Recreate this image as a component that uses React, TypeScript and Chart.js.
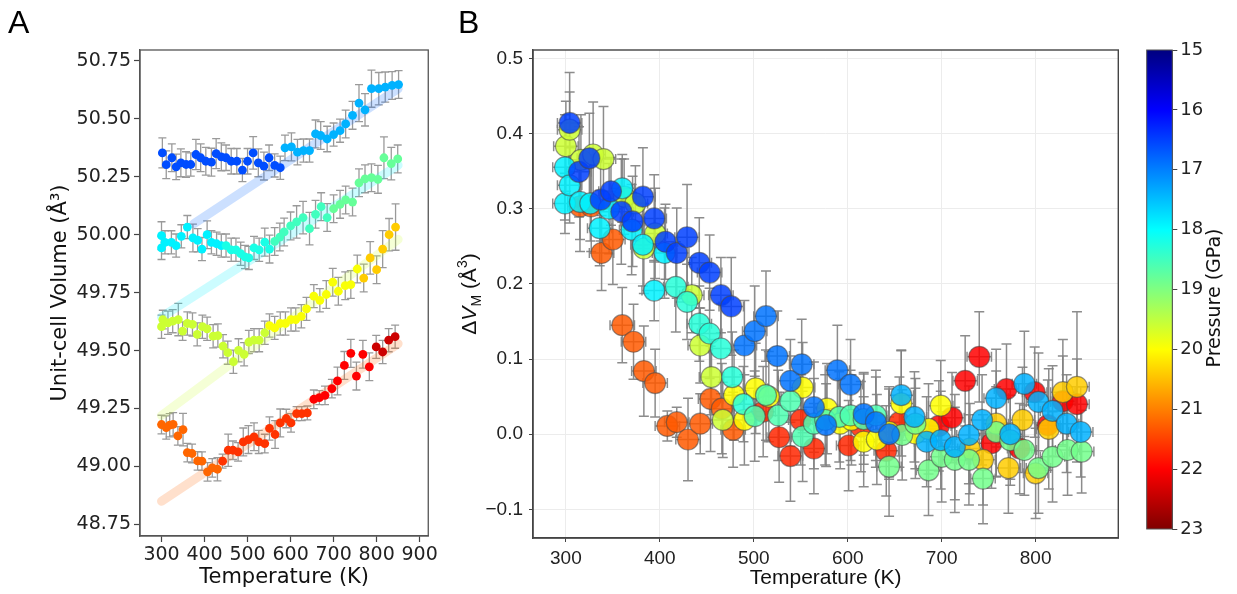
import React, { useEffect, useRef } from "react";
import { Chart, registerables } from "chart.js";
Chart.register(...registerables);

const FONT_A = "'DejaVu Sans', sans-serif";
const FONT_B = "'Liberation Sans', Arial, sans-serif";

// ---------- Panel A ----------
const A_X_TICKS = [300, 400, 500, 600, 700, 800, 900];
const A_Y_TICKS = [48.75, 49.0, 49.25, 49.5, 49.75, 50.0, 50.25, 50.5, 50.75];

const A1_T = [302,311,324,334,345,357,368,380,391,403,416,427,439,450,462,475,488,500,513,525,538,550,563,576,587,602,616,630,644,658,670,685,700,715,728,744,759,773,788,805,820,836,851];
const A1_V = [50.353,50.302,50.332,50.293,50.31,50.303,50.303,50.346,50.332,50.317,50.313,50.35,50.336,50.332,50.317,50.317,50.279,50.317,50.353,50.31,50.296,50.332,50.299,50.289,50.375,50.379,50.356,50.363,50.363,50.435,50.428,50.413,50.432,50.449,50.478,50.515,50.568,50.539,50.63,50.63,50.637,50.644,50.648];
const A1_ERR = [0.065,0.06,0.06,0.055,0.06,0.055,0.05,0.065,0.06,0.06,0.06,0.065,0.06,0.055,0.055,0.055,0.05,0.055,0.07,0.06,0.06,0.055,0.05,0.05,0.055,0.06,0.055,0.05,0.05,0.06,0.06,0.055,0.05,0.05,0.06,0.06,0.08,0.07,0.08,0.07,0.065,0.06,0.06];
const A1_P = [[0, 16.6], [580, 17.4]];

const A2_T = [300,300,308,323,334,346,360,373,384,394,406,416,428,439,450,462,473,484,494,503,515,527,540,551,563,575,585,600,614,629,644,658,671,685,700,715,728,744,759,773,788,803,817,834,849];
const A2_V = [49.996,49.943,49.967,49.967,49.953,49.993,50.033,49.986,49.976,49.938,50.0,49.967,49.961,49.953,49.953,49.935,49.935,49.918,49.904,49.9,49.943,49.935,49.968,49.938,49.971,49.99,50.012,50.038,50.055,50.074,50.026,50.088,50.121,50.074,50.112,50.131,50.15,50.141,50.224,50.241,50.246,50.239,50.332,50.307,50.327];
const A2_ERR = [0.06,0.05,0.05,0.05,0.05,0.05,0.05,0.06,0.05,0.05,0.06,0.05,0.05,0.05,0.05,0.05,0.05,0.05,0.05,0.05,0.05,0.05,0.06,0.06,0.06,0.06,0.06,0.06,0.07,0.07,0.07,0.06,0.06,0.06,0.06,0.06,0.06,0.06,0.06,0.06,0.06,0.06,0.09,0.07,0.06];
const A2_P = [[0, 17.9], [440, 18.2], [560, 18.5], [700, 18.8]];

const A3_T = [300,303,315,326,339,349,360,372,383,395,406,420,431,443,454,467,479,492,503,515,527,540,551,563,576,588,601,612,625,637,654,668,683,698,711,727,740,755,770,785,800,814,829,844];
const A3_V = [49.603,49.634,49.62,49.627,49.634,49.584,49.617,49.613,49.57,49.603,49.594,49.562,49.565,49.519,49.491,49.452,49.501,49.484,49.537,49.545,49.545,49.577,49.608,49.598,49.617,49.617,49.634,49.634,49.648,49.68,49.735,49.717,49.742,49.795,49.756,49.78,49.785,49.852,49.813,49.9,49.849,49.938,50.0,50.033];
const A3_ERR = [0.05,0.04,0.05,0.05,0.07,0.04,0.05,0.05,0.05,0.05,0.05,0.05,0.05,0.05,0.05,0.05,0.05,0.05,0.05,0.05,0.05,0.05,0.05,0.05,0.05,0.05,0.05,0.05,0.05,0.05,0.05,0.05,0.06,0.06,0.06,0.06,0.06,0.06,0.06,0.07,0.06,0.08,0.07,0.1];
const A3_P = [[0, 19.6], [545, 19.95], [760, 20.4]];

const A4_T = [300,311,319,327,338,350,360,371,384,394,407,418,430,442,455,466,478,490,502,515,526,540,551,564,576,590,601,614,626,639,654,667,680,696,709,725,740,753,768,783,799,814,828,843];
const A4_V = [49.181,49.168,49.178,49.182,49.132,49.159,49.06,49.056,49.024,49.023,48.977,48.994,48.988,49.023,49.07,49.07,49.063,49.106,49.116,49.128,49.106,49.099,49.164,49.138,49.188,49.207,49.188,49.228,49.228,49.231,49.29,49.297,49.307,49.336,49.369,49.436,49.488,49.39,49.484,49.43,49.516,49.494,49.545,49.56];
const A4_ERR = [0.04,0.05,0.05,0.05,0.04,0.07,0.04,0.04,0.04,0.04,0.04,0.04,0.05,0.03,0.07,0.04,0.04,0.06,0.06,0.06,0.05,0.04,0.05,0.06,0.06,0.04,0.04,0.03,0.03,0.03,0.04,0.03,0.04,0.04,0.06,0.06,0.06,0.06,0.06,0.06,0.05,0.05,0.05,0.05];
const A4_P = [[0, 21.2], [440, 21.6], [650, 22.0], [790, 22.4]];

// faint linear-fit trails (start / end)
const TRAIL1_T = [375, 850]; const TRAIL1_V = [50.047, 50.63]; const TRAIL1_P = 16.8;
const TRAIL2_T = [300, 850]; const TRAIL2_V = [49.645, 50.3]; const TRAIL2_P = 17.9;
const TRAIL3_T = [300, 850]; const TRAIL3_V = [49.22, 49.98]; const TRAIL3_P = 19.6;
const TRAIL4_T = [300, 850]; const TRAIL4_V = [48.85, 49.53]; const TRAIL4_P = 21.2;

// ---------- Panel B ----------
const B_X_TICKS = [300, 400, 500, 600, 700, 800];
const B_Y_TICKS = [-0.1, 0.0, 0.1, 0.2, 0.3, 0.4, 0.5];
const B_T_ERR = 13;

const B1_T = [304,314,325,337,348,359,371,382,394,406,418,429,442,453,465,476,490,501,513,525,539,551,564,577,589,603,617,630,644,657,671,684,699,714,729,743,758,773,788,803,818,833,848];
const B1_V = [0.414,0.349,0.367,0.312,0.323,0.296,0.283,0.316,0.287,0.256,0.241,0.262,0.228,0.215,0.185,0.17,0.118,0.137,0.157,0.104,0.071,0.093,0.036,0.012,0.085,0.066,0.027,0.016,0.0,0.052,0.023,-0.01,-0.008,-0.017,-0.001,0.019,0.048,0.0,0.067,0.043,0.031,0.014,0.003];
const B1_ERR = [0.067,0.06,0.06,0.055,0.045,0.07,0.06,0.065,0.058,0.05,0.06,0.07,0.06,0.05,0.05,0.065,0.06,0.06,0.06,0.06,0.055,0.06,0.06,0.055,0.06,0.06,0.055,0.06,0.06,0.06,0.06,0.06,0.065,0.07,0.065,0.06,0.065,0.06,0.07,0.065,0.06,0.065,0.06];
const B1_P = [[0, 16.5], [485, 16.9], [650, 17.4]];

const B2_T = [299,299,304,315,326,336,346,360,370,382,394,405,417,429,442,453,465,477,489,501,513,526,539,552,564,576,591,603,617,630,644,658,672,686,700,714,729,744,758,773,788,803,818,834,849];
const B2_V = [0.355,0.307,0.331,0.309,0.307,0.274,0.3,0.327,0.272,0.252,0.191,0.241,0.196,0.176,0.147,0.134,0.114,0.076,0.04,0.024,0.052,0.025,0.044,-0.003,0.014,0.019,0.023,0.025,0.02,0.025,-0.043,-0.001,0.014,-0.048,-0.03,-0.034,-0.034,-0.059,0.003,-0.008,-0.021,-0.045,-0.03,-0.021,-0.023];
const B2_ERR = [0.07,0.04,0.05,0.05,0.05,0.05,0.06,0.045,0.06,0.055,0.04,0.06,0.06,0.05,0.05,0.06,0.06,0.06,0.05,0.06,0.06,0.06,0.06,0.06,0.06,0.06,0.06,0.06,0.06,0.06,0.066,0.06,0.06,0.06,0.06,0.07,0.06,0.06,0.06,0.06,0.06,0.06,0.06,0.06,0.055];
const B2_P = [[0, 17.9], [410, 18.3], [495, 18.6], [640, 18.9]];

const B3_T = [300,304,316,329,340,362,374,383,395,434,443,455,467,479,490,502,516,552,578,592,604,617,631,644,657,672,686,699,730,744,758,771,786,800,814,829,844];
const B3_V = [0.383,0.405,0.365,0.372,0.366,0.316,0.307,0.247,0.267,0.185,0.118,0.076,0.019,0.052,0.019,0.061,0.05,0.062,0.034,0.014,0.019,-0.01,-0.007,0.003,0.041,0.001,0.007,0.038,-0.019,-0.034,0.014,-0.045,0.019,-0.052,0.007,0.056,0.063];
const B3_ERR = [0.06,0.05,0.06,0.07,0.07,0.05,0.05,0.06,0.06,0.05,0.05,0.05,0.05,0.06,0.06,0.06,0.06,0.06,0.06,0.06,0.06,0.06,0.06,0.06,0.07,0.06,0.06,0.06,0.06,0.06,0.07,0.06,0.07,0.06,0.08,0.07,0.1];
const B3_P = [[0, 19.6], [475, 20.0], [720, 20.4]];

const B4_T = [315,327,338,350,360,372,383,395,408,418,430,443,454,466,478,510,527,539,550,564,601,614,641,655,697,711,725,740,753,769,783,799,813,829,844];
const B4_V = [0.303,0.303,0.241,0.259,0.145,0.123,0.084,0.068,0.011,0.016,-0.007,0.014,0.047,0.034,0.006,0.03,-0.004,-0.029,0.019,-0.019,-0.015,0.01,-0.022,0.016,0.011,0.022,0.071,0.103,-0.012,0.06,-0.019,0.056,0.012,0.044,0.04];
const B4_ERR = [0.06,0.06,0.05,0.06,0.05,0.05,0.06,0.045,0.02,0.02,0.055,0.04,0.07,0.06,0.05,0.06,0.06,0.06,0.06,0.06,0.06,0.06,0.06,0.06,0.06,0.06,0.06,0.06,0.06,0.06,0.06,0.06,0.06,0.06,0.06];
const B4_P = [[0, 21.3], [500, 21.7], [690, 22.0]];

// ---------- Colorbar ----------
const CB_TICKS = [15, 16, 17, 18, 19, 20, 21, 22, 23];
const CB_MIN = 15;
const CB_MAX = 23;

// ---------- helpers ----------
function jet(p: number, a = 1) {
  const t = Math.min(1, Math.max(0, (p - CB_MIN) / (CB_MAX - CB_MIN)));
  const c = (v: number) => Math.round(255 * Math.min(1, Math.max(0, v)));
  const r = c(1.5 - Math.abs(4 * t - 3));
  const g = c(1.5 - Math.abs(4 * t - 2));
  const b = c(1.5 - Math.abs(4 * t - 1));
  return `rgba(${r},${g},${b},${a})`;
}
function pressureFor(steps: number[][], t: number) {
  let p = steps[0][1];
  for (const [t0, pv] of steps) if (t >= t0) p = pv;
  return p;
}
function pts(T: number[], V: number[]) {
  return T.map((t, i) => ({ x: t, y: V[i] }));
}

const errorBarPlugin = {
  id: "errbars",
  beforeDatasetsDraw(chart: any, _args: any, opts: any) {
    const ctx = chart.ctx;
    const xs = chart.scales.x;
    const ys = chart.scales.y;
    const area = chart.chartArea;
    ctx.save();
    ctx.beginPath();
    ctx.rect(area.left, area.top, area.right - area.left, area.bottom - area.top);
    ctx.clip();
    ctx.strokeStyle = opts.color;
    ctx.lineWidth = opts.width;
    const cap = opts.cap;
    chart.data.datasets.forEach((ds: any) => {
      if (!ds.errY) return;
      ds.data.forEach((pt: any, i: number) => {
        const x = xs.getPixelForValue(pt.x);
        const y = ys.getPixelForValue(pt.y);
        const e = ds.errY[i] ?? 0;
        const y1 = ys.getPixelForValue(pt.y + e);
        const y2 = ys.getPixelForValue(pt.y - e);
        ctx.beginPath();
        ctx.moveTo(x, y1); ctx.lineTo(x, y2);
        ctx.moveTo(x - cap, y1); ctx.lineTo(x + cap, y1);
        ctx.moveTo(x - cap, y2); ctx.lineTo(x + cap, y2);
        if (ds.errX) {
          const x1 = xs.getPixelForValue(pt.x - ds.errX);
          const x2 = xs.getPixelForValue(pt.x + ds.errX);
          ctx.moveTo(x1, y); ctx.lineTo(x2, y);
          ctx.moveTo(x1, y - cap); ctx.lineTo(x1, y + cap);
          ctx.moveTo(x2, y - cap); ctx.lineTo(x2, y + cap);
        }
        ctx.stroke();
      });
    });
    ctx.restore();
  },
};

const framePlugin = {
  id: "frame",
  afterDatasetsDraw(chart: any, _args: any, opts: any) {
    const { left, top, right, bottom } = chart.chartArea;
    const ctx = chart.ctx;
    ctx.save();
    ctx.strokeStyle = opts.color;
    ctx.lineWidth = opts.width;
    ctx.strokeRect(left, top, right - left, bottom - top);
    ctx.restore();
  },
};

const letterPlugin = {
  id: "letter",
  afterDraw(chart: any, _args: any, opts: any) {
    const ctx = chart.ctx;
    ctx.save();
    ctx.fillStyle = "#000";
    ctx.font = `32px ${FONT_B}`;
    ctx.textBaseline = "alphabetic";
    ctx.textAlign = "left";
    ctx.fillText(opts.text, opts.x, opts.y);
    ctx.restore();
  },
};

const bTitlePlugin = {
  id: "btitle",
  afterDraw(chart: any) {
    const ctx = chart.ctx;
    const area = chart.chartArea;
    const big = `21px ${FONT_B}`;
    const it = `italic 21px ${FONT_B}`;
    const small = `14px ${FONT_B}`;
    const parts = [
      { t: "Δ", f: big, dy: 0 },
      { t: "V", f: it, dy: 0 },
      { t: "M", f: small, dy: 5 },
      { t: " (Å", f: big, dy: 0 },
      { t: "3", f: small, dy: -9 },
      { t: ")", f: big, dy: 0 },
    ];
    ctx.save();
    let total = 0;
    const widths = parts.map((p) => { ctx.font = p.f; const w = ctx.measureText(p.t).width; total += w; return w; });
    ctx.translate(28, (area.top + area.bottom) / 2);
    ctx.rotate(-Math.PI / 2);
    ctx.fillStyle = "#111";
    ctx.textBaseline = "alphabetic";
    ctx.textAlign = "left";
    let x = -total / 2;
    parts.forEach((p, i) => {
      ctx.font = p.f;
      ctx.fillText(p.t, x, 7.5 + p.dy);
      x += widths[i];
    });
    ctx.restore();
  },
};

const colorbarPlugin = {
  id: "cbar",
  beforeDatasetsDraw(chart: any) {
    const ctx = chart.ctx;
    const { left, top, right, bottom } = chart.chartArea;
    const ys = chart.scales.y;
    const grad = ctx.createLinearGradient(0, top, 0, bottom);
    for (let k = 0; k <= 64; k++) {
      const p = CB_MIN + ((CB_MAX - CB_MIN) * k) / 64;
      const pos = (ys.getPixelForValue(p) - top) / (bottom - top);
      grad.addColorStop(Math.min(1, Math.max(0, pos)), jet(p));
    }
    ctx.save();
    ctx.fillStyle = grad;
    ctx.fillRect(left, top, right - left, bottom - top);
    ctx.restore();
  },
  afterDraw(chart: any) {
    const ctx = chart.ctx;
    ctx.save();
    ctx.translate(90, 298);
    ctx.rotate(-Math.PI / 2);
    ctx.font = `19px ${FONT_A}`;
    ctx.fillStyle = "#111";
    ctx.textAlign = "center";
    ctx.textBaseline = "alphabetic";
    ctx.fillText("Pressure (GPa)", 0, 0);
    ctx.restore();
  },
};

function aSeries(T: number[], V: number[], E: number[], P: number[][], order: number) {
  return {
    type: "scatter" as const,
    data: pts(T, V),
    errY: E,
    order,
    pointRadius: 4.4,
    pointBorderWidth: 0,
    pointBackgroundColor: T.map((t) => jet(pressureFor(P, t))),
    showLine: false,
  };
}
function aTrail(T: number[], V: number[], P: number) {
  return {
    type: "line" as const,
    data: pts(T, V),
    order: 10,
    borderColor: jet(P, 0.2),
    borderWidth: 9,
    borderCapStyle: "round" as const,
    pointRadius: 0,
    showLine: true,
    fill: false,
  };
}
function bSeries(T: number[], V: number[], E: number[], P: number[][], order: number) {
  return {
    type: "scatter" as const,
    data: pts(T, V),
    errY: E,
    errX: B_T_ERR,
    order,
    pointRadius: 10.5,
    pointBorderWidth: 1.2,
    pointBorderColor: "rgba(70,70,70,0.55)",
    pointBackgroundColor: T.map((t) => jet(pressureFor(P, t), 0.85)),
    showLine: false,
  };
}

export default function App() {
  const refA = useRef<HTMLCanvasElement>(null);
  const refB = useRef<HTMLCanvasElement>(null);
  const refC = useRef<HTMLCanvasElement>(null);

  useEffect(() => {
    const chartA = new Chart(refA.current!, {
      type: "scatter",
      data: {
        datasets: [
          aSeries(A1_T, A1_V, A1_ERR, A1_P, 1),
          aSeries(A2_T, A2_V, A2_ERR, A2_P, 2),
          aSeries(A3_T, A3_V, A3_ERR, A3_P, 3),
          aSeries(A4_T, A4_V, A4_ERR, A4_P, 4),
          aTrail(TRAIL1_T, TRAIL1_V, TRAIL1_P),
          aTrail(TRAIL2_T, TRAIL2_V, TRAIL2_P),
          aTrail(TRAIL3_T, TRAIL3_V, TRAIL3_P),
          aTrail(TRAIL4_T, TRAIL4_V, TRAIL4_P),
        ] as any,
      },
      plugins: [errorBarPlugin, framePlugin, letterPlugin],
      options: {
        animation: false,
        responsive: false,
        devicePixelRatio: 1,
        events: [],
        layout: { padding: { top: 50, right: 7, left: 0, bottom: 0 } },
        plugins: {
          legend: { display: false },
          tooltip: { enabled: false },
          errbars: { color: "#9a9a9a", width: 1.3, cap: 4 },
          frame: { color: "#555", width: 1.3 },
          letter: { text: "A", x: 8, y: 33 },
        } as any,
        scales: {
          x: {
            type: "linear",
            min: 250,
            max: 920,
            afterBuildTicks: (s: any) => { s.ticks = A_X_TICKS.map((v) => ({ value: v })); },
            afterFit: (s: any) => { s.height = 58; },
            grid: { drawOnChartArea: false, color: "#444", tickLength: 6, tickWidth: 1.2 },
            border: { display: true, color: "#555", width: 1.3 },
            ticks: { font: { family: FONT_A, size: 19 }, color: "#222", padding: 2, maxRotation: 0, autoSkip: false, callback: (v: any) => String(v) },
            title: { display: true, text: "Temperature (K)", font: { family: FONT_A, size: 21 }, color: "#111", padding: { top: 0, bottom: 4 } },
          },
          y: {
            type: "linear",
            min: 48.7,
            max: 50.797,
            afterBuildTicks: (s: any) => { s.ticks = A_Y_TICKS.map((v) => ({ value: v })); },
            afterFit: (s: any) => { s.width = 140; },
            grid: { drawOnChartArea: false, color: "#444", tickLength: 6, tickWidth: 1.2 },
            border: { display: true, color: "#555", width: 1.3 },
            ticks: { font: { family: FONT_A, size: 19 }, color: "#222", padding: 3, autoSkip: false, callback: (v: any) => Number(v).toFixed(2) },
            title: { display: true, text: "Unit-cell Volume (Å³)", font: { family: FONT_A, size: 21 }, color: "#111", padding: { top: 48, bottom: 0 } },
          },
        },
      },
    });

    const chartB = new Chart(refB.current!, {
      type: "scatter",
      data: {
        datasets: [
          bSeries(B1_T, B1_V, B1_ERR, B1_P, 1),
          bSeries(B2_T, B2_V, B2_ERR, B2_P, 2),
          bSeries(B3_T, B3_V, B3_ERR, B3_P, 3),
          bSeries(B4_T, B4_V, B4_ERR, B4_P, 4),
        ] as any,
      },
      plugins: [errorBarPlugin, framePlugin, letterPlugin, bTitlePlugin],
      options: {
        animation: false,
        responsive: false,
        devicePixelRatio: 1,
        events: [],
        layout: { padding: { top: 50, right: 7.3, left: 0, bottom: 0 } },
        plugins: {
          legend: { display: false },
          tooltip: { enabled: false },
          errbars: { color: "rgba(128,128,128,0.9)", width: 1.5, cap: 5 },
          frame: { color: "#444", width: 1.4 },
          letter: { text: "B", x: 18, y: 33 },
        } as any,
        scales: {
          x: {
            type: "linear",
            min: 265,
            max: 888,
            afterBuildTicks: (s: any) => { s.ticks = B_X_TICKS.map((v) => ({ value: v })); },
            afterFit: (s: any) => { s.height = 56; },
            grid: { color: "#ececec", lineWidth: 1, tickColor: "#444", tickLength: 4 },
            border: { display: true, color: "#444", width: 1.4 },
            ticks: { font: { family: FONT_B, size: 19 }, color: "#222", padding: 5, maxRotation: 0, autoSkip: false, callback: (v: any) => String(v) },
            title: { display: true, text: "Temperature (K)", font: { family: FONT_B, size: 21 }, color: "#111", padding: { top: 0, bottom: 3.5 } },
          },
          y: {
            type: "linear",
            min: -0.138,
            max: 0.511,
            afterBuildTicks: (s: any) => { s.ticks = B_Y_TICKS.map((v) => ({ value: v })); },
            afterFit: (s: any) => { s.width = 93; },
            grid: { color: "#ececec", lineWidth: 1, tickColor: "#444", tickLength: 4 },
            border: { display: true, color: "#444", width: 1.4 },
            ticks: { font: { family: FONT_B, size: 19 }, color: "#222", padding: 6, autoSkip: false, callback: (v: any) => (Number(v) < 0 ? "−" + Math.abs(Number(v)).toFixed(1) : Number(v).toFixed(1)) },
            title: { display: false },
          },
        },
      },
    });

    const chartC = new Chart(refC.current!, {
      type: "scatter",
      data: { datasets: [{ data: [] as any[] }] },
      plugins: [colorbarPlugin, framePlugin],
      options: {
        animation: false,
        responsive: false,
        devicePixelRatio: 1,
        events: [],
        layout: { padding: { top: 50, right: 0, left: 16.7, bottom: 65 } },
        plugins: {
          legend: { display: false },
          tooltip: { enabled: false },
          frame: { color: "#555", width: 1 },
        } as any,
        scales: {
          x: { type: "linear", display: false, min: 0, max: 1 },
          y: {
            type: "linear",
            position: "right",
            reverse: true,
            min: CB_MIN,
            max: CB_MAX,
            afterBuildTicks: (s: any) => { s.ticks = CB_TICKS.map((v) => ({ value: v })); },
            afterFit: (s: any) => { s.width = 64.7; },
            grid: { drawOnChartArea: false, color: "#444", tickLength: 5, tickWidth: 1 },
            border: { display: true, color: "#555", width: 1 },
            ticks: { font: { family: FONT_A, size: 18 }, color: "#222", padding: 3, autoSkip: false, callback: (v: any) => String(v) },
          },
        },
      },
    });

    return () => {
      chartA.destroy();
      chartB.destroy();
      chartC.destroy();
    };
  }, []);

  return (
    <div style={{ position: "absolute", left: 0, top: 0, width: 1237, height: 594, background: "#fff", overflow: "hidden" }}>
      <canvas ref={refA} width={440} height={594} style={{ position: "absolute", left: 0, top: 0 }} />
      <canvas ref={refB} width={690} height={594} style={{ position: "absolute", left: 440, top: 0 }} />
      <canvas ref={refC} width={107} height={594} style={{ position: "absolute", left: 1130, top: 0 }} />
    </div>
  );
}
